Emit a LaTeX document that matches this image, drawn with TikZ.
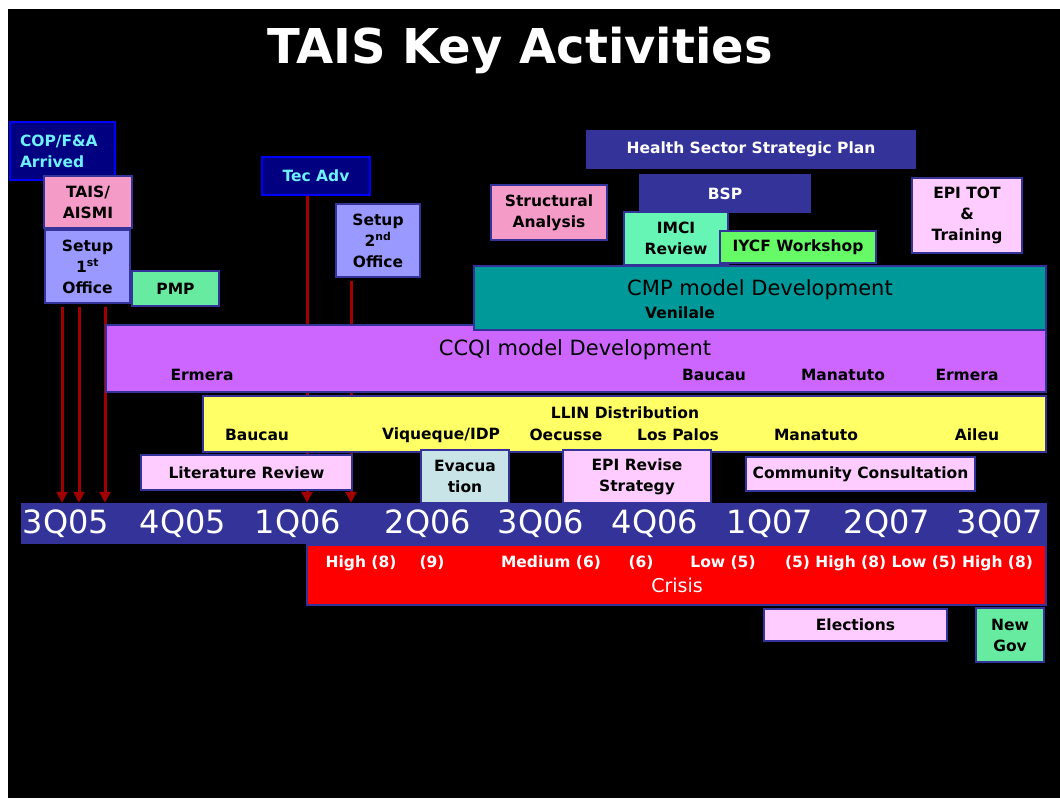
\documentclass[tikz,border=0pt]{standalone}
\usepackage{fontspec}
\setmainfont{DejaVu Sans}
\usepackage{tikz}
\usetikzlibrary{arrows.meta}

\definecolor{navybox}{RGB}{0,0,128}
\definecolor{brightblue}{RGB}{0,0,255}
\definecolor{cyantext}{RGB}{110,240,255}
\definecolor{borderblue}{RGB}{51,51,153}
\definecolor{pinkbox}{RGB}{245,155,200}
\definecolor{lavbox}{RGB}{153,153,255}
\definecolor{mintbox}{RGB}{102,235,160}
\definecolor{imcibox}{RGB}{102,245,180}
\definecolor{iycfbox}{RGB}{102,250,102}
\definecolor{lightpink}{RGB}{255,204,255}
\definecolor{cmpteal}{RGB}{0,153,153}
\definecolor{ccqipurple}{RGB}{204,102,255}
\definecolor{llinyellow}{RGB}{255,255,102}
\definecolor{evacblue}{RGB}{200,228,230}
\definecolor{crisisred}{RGB}{255,0,0}
\definecolor{arrowred}{RGB}{160,0,0}

\begin{document}
\begin{tikzpicture}[x=1pt,y=-1pt]
					\tikzstyle{box}=[rectangle,draw=borderblue,line width=2.5pt,inner sep=2pt,align=center,font=\fontsize{15.5}{21}\selectfont\bfseries]
					\tikzstyle{darkbox}=[box,fill=navybox,draw=brightblue,text=cyantext]
					\tikzstyle{bar}=[rectangle,draw=borderblue,line width=2.5pt,inner sep=0pt]
					\tikzstyle{place}=[font=\fontsize{15.5}{18}\selectfont\bfseries,inner sep=1pt]
					\tikzstyle{barlabel}=[font=\fontsize{21}{24}\selectfont,inner sep=1pt]
					\tikzstyle{quarter}=[font=\fontsize{32}{36}\selectfont,text=white,inner sep=0pt]
					\tikzstyle{redarrow}=[draw=arrowred,line width=3pt,-{Triangle[length=11pt,width=11pt]}]
					\useasboundingbox (0,0) rectangle (1060,798);
					\fill[white] (0,0) rectangle (1060,798);
					\fill[black] (8,9) rectangle (1060,798);
					\node[font=\fontsize{48}{52}\selectfont\bfseries,text=white] (title) at (520,50) {TAIS Key Activities};
					\node[darkbox,align=left,minimum width=105,minimum height=58,text width=85] (cop) at (62.5,151) {COP/F\&A\\Arrived};
					\node[box,fill=pinkbox,minimum width=88,minimum height=52] (tais) at (88,202) {TAIS/\\AISMI};
					\node[box,fill=lavbox,minimum width=85,minimum height=73] (setup1) at (87.5,266.5) {Setup\\1\textsuperscript{st}\\Office};
					\node[box,fill=mintbox,minimum width=87,minimum height=35] (pmp) at (175.5,288.5) {PMP};
					\node[darkbox,minimum width=108,minimum height=38] (tec) at (316,176) {Tec Adv};
					\node[box,fill=lavbox,minimum width=84,minimum height=73] (setup2) at (378,240.5) {Setup\\2\textsuperscript{nd}\\Office};
					\node[bar,fill=borderblue,minimum width=1024,minimum height=39] (timeline) at (534,523.5) {};
					\draw[redarrow] ([xshift=-25.5pt,yshift=-3pt]setup1.south) -- ([xshift=-25.5pt]setup1.south |- timeline.north);
					\draw[redarrow] ([xshift=-8.5pt,yshift=-3pt]setup1.south) -- ([xshift=-8.5pt]setup1.south |- timeline.north);
					\draw[redarrow] ([xshift=17.5pt,yshift=-3pt]setup1.south) -- ([xshift=17.5pt]setup1.south |- timeline.north);
					\draw[redarrow] ([xshift=-9pt]tec.south) -- ([xshift=-9pt]tec.south |- timeline.north);
					\draw[redarrow] ([xshift=-27pt,yshift=-3pt]setup2.south) -- ([xshift=-27pt]setup2.south |- timeline.north);
					\node[box,fill=pinkbox,minimum width=116,minimum height=55] (struct) at (549,212.5) {Structural\\Analysis};
					\node[box,fill=borderblue,text=white,minimum width=328,minimum height=37] (health) at (751,149.5) {Health Sector Strategic Plan};
					\node[box,fill=borderblue,text=white,minimum width=170,minimum height=37] (bsp) at (725,193.5) {BSP};
					\node[box,fill=imcibox,minimum width=104,minimum height=53] (imci) at (676,238.5) {IMCI\\Review};
					\node[box,fill=iycfbox,minimum width=156,minimum height=32] (iycf) at (798,247) {IYCF Workshop};
					\node[box,fill=lightpink,minimum width=110,minimum height=75] (epitot) at (967,215.5) {EPI TOT\\\&\\Training};
					\node[bar,fill=ccqipurple,minimum width=940,minimum height=67] (ccqi) at (576,358.5) {};
					\node[bar,fill=cmpteal,minimum width=572,minimum height=64] (cmp) at (760,298) {};
					\node[bar,fill=llinyellow,minimum width=843,minimum height=56] (llin) at (624.5,424) {};
					\node[box,fill=lightpink,minimum width=211,minimum height=35] (litrev) at (246.5,472.5) {Literature Review};
					\node[box,fill=evacblue,minimum width=88,minimum height=53] (evac) at (465,476.5) {Evacua\\tion};
					\node[box,fill=lightpink,minimum width=148,minimum height=53] (epirev) at (637,476.5) {EPI Revise\\Strategy};
					\node[box,fill=lightpink,minimum width=229,minimum height=34] (commc) at (860.5,474) {Community Consultation};
					\node[bar,fill=crisisred,minimum width=739,minimum height=60] (crisis) at (676.5,575) {};
					\node[box,fill=lightpink,minimum width=183,minimum height=32] (elect) at (855.5,625) {Elections};
					\node[box,fill=mintbox,minimum width=68,minimum height=54] (newgov) at (1010,635) {New\\Gov};
					\node[barlabel] (cmptitle) at (760,290) {CMP model Development};
					\node[place] (venilale) at (680,313) {Venilale};
					\node[barlabel] (ccqititle) at (575,350) {CCQI model Development};
					\node[place] (ermera1) at (202,375) {Ermera};
					\node[place] (baucau1) at (714,375) {Baucau};
					\node[place] (manatuto1) at (843,375) {Manatuto};
					\node[place] (ermera2) at (967,375) {Ermera};
					\node[place] (llintitle) at (625,413) {LLIN Distribution};
					\node[place] (baucau2) at (257,435) {Baucau};
					\node[place] (viqueque) at (441,435) {Viqueque/IDP};
					\node[place] (oecusse) at (566,435) {Oecusse};
					\node[place] (lospalos) at (678,435) {Los Palos};
					\node[place] (manatuto2) at (816,435) {Manatuto};
					\node[place] (aileu) at (977,435) {Aileu};
					\node[quarter] (q1) at (66,524) {3Q05};
					\node[quarter] (q2) at (183,524) {4Q05};
					\node[quarter] (q3) at (298,524) {1Q06};
					\node[quarter] (q4) at (428,524) {2Q06};
					\node[quarter] (q5) at (541,524) {3Q06};
					\node[quarter] (q6) at (655,524) {4Q06};
					\node[quarter] (q7) at (770,524) {1Q07};
					\node[quarter] (q8) at (887,524) {2Q07};
					\node[quarter] (q9) at (1000,524) {3Q07};
					\node[place,text=white] (lvl1) at (361,563) {High (8)};
					\node[place,text=white] (lvl2) at (432,563) {(9)};
					\node[place,text=white] (lvl3) at (551,563) {Medium (6)};
					\node[place,text=white] (lvl4) at (641,563) {(6)};
					\node[place,text=white] (lvl5) at (723,563) {Low (5)};
					\node[place,text=white] (lvl6) at (909,563) {(5) High (8) Low (5) High (8)};
					\node[barlabel,text=white,font=\fontsize{19}{22}\selectfont] (crisistitle) at (677,585) {Crisis};
					\end{tikzpicture}
\end{document}
